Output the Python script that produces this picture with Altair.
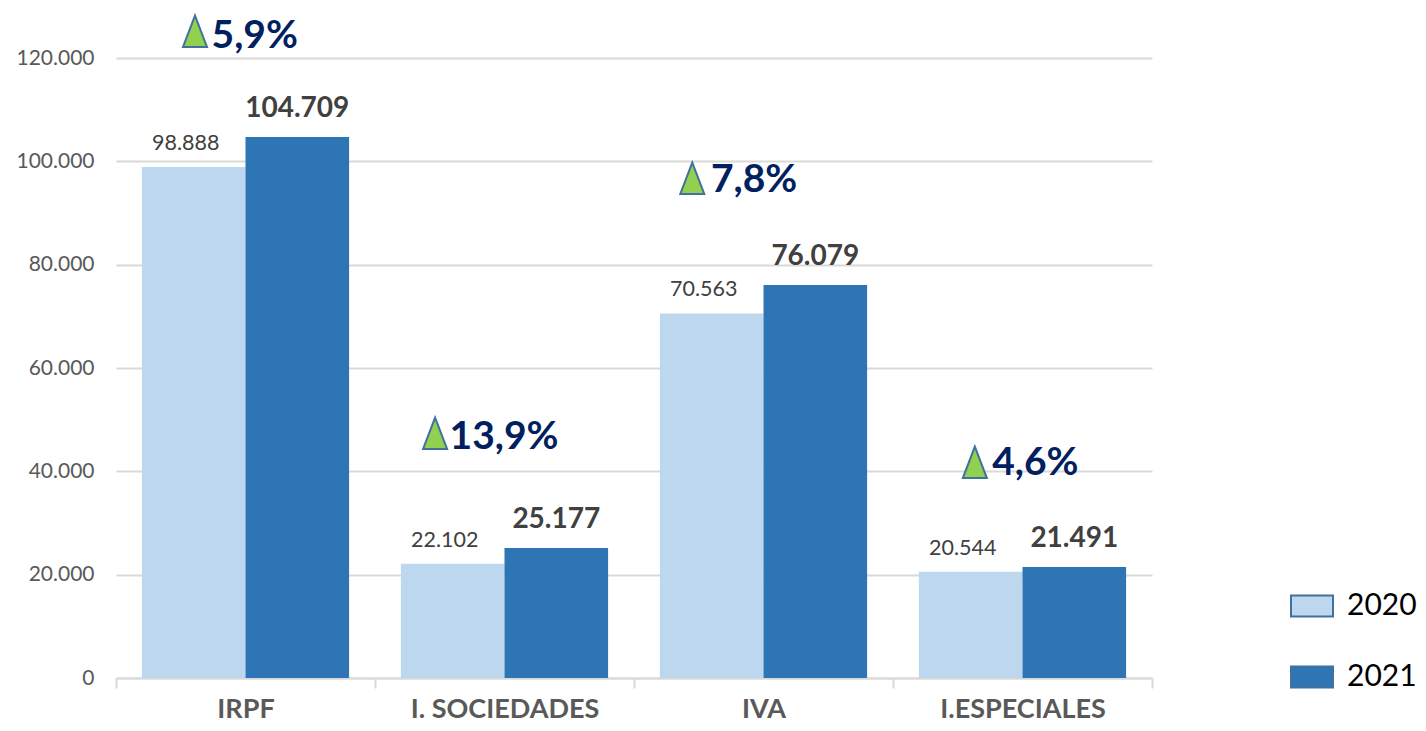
import altair as alt
import pandas as pd

categories = ["IRPF", "I. SOCIEDADES", "IVA", "I.ESPECIALES"]
values_2020 = [98888, 22102, 70563, 20544]
values_2021 = [104709, 25177, 76079, 21491]
changes = ["5,9%", "13,9%", "7,8%", "4,6%"]
# annotation anchors, in category units (0 = left of the axis, 4 = right) and value units
marker_x = [0.305, 1.232, 2.225, 3.316]
label_x = [0.369, 1.288, 2.297, 3.383]
marker_base = [122130, 44320, 93680, 38700]
label_base = [121900, 44320, 94070, 39300]

FONT = "Lato"
BLUE_L, BLUE_D = "#BDD7EE", "#2E75B6"

rows = []
for c, a, b in zip(categories, values_2020, values_2021):
    rows.append({"cat": c, "year": "2020", "v": a})
    rows.append({"cat": c, "year": "2021", "v": b})
df = pd.DataFrame(rows)
ann = pd.DataFrame({"mx": marker_x, "lx": label_x, "base": marker_base,
                    "lbase": label_base, "t": changes})

x = alt.X("cat:N", sort=categories, title=None,
          scale=alt.Scale(paddingInner=0, paddingOuter=0),
          axis=alt.Axis(tickBand="extent", labelAngle=0, labelFont=FONT, labelFontSize=27,
                        labelFontWeight="bold", labelColor="#595959", labelPadding=8,
                        labelLimit=400,
                        domainColor="#D9D9D9", domainWidth=2, tickColor="#D9D9D9",
                        tickWidth=2, tickSize=10, grid=False))
y = alt.Y("v:Q", title=None,
          scale=alt.Scale(domain=[0, 120000], nice=False),
          axis=alt.Axis(values=list(range(0, 120001, 20000)),
                        labelExpr="replace(format(datum.value, ','), ',', '.')",
                        labelFont=FONT, labelFontSize=21, labelColor="#595959",
                        labelPadding=22, tickSize=0, domain=False,
                        grid=True, gridColor="#D9D9D9", gridWidth=2))
off = alt.XOffset("year:N", scale=alt.Scale(paddingInner=0, paddingOuter=0.25))

bars = alt.Chart(df).mark_bar(strokeWidth=0).encode(
    x=x, y=y, xOffset=off,
    color=alt.Color("year:N",
                    scale=alt.Scale(domain=["2020", "2021"], range=[BLUE_L, BLUE_D]),
                    legend=alt.Legend(title=None, orient="none", legendX=1174, legendY=526,
                                      symbolType="M-1,-0.5H1V0.5H-1Z", symbolSize=1764,
                                      symbolStrokeColor="#41719C", symbolStrokeWidth=2,
                                      labelFont=FONT, labelFontSize=30, labelColor="#000000",
                                      labelOffset=13, rowPadding=34)))

lab_base = alt.Chart(df).transform_calculate(
    s="replace(format(datum.v, ','), ',', '.')")
lab20 = lab_base.transform_filter("datum.year == '2020'").mark_text(
    font=FONT, fontSize=21.5, color="#404040", baseline="alphabetic", dx=-8, dy=-17
).encode(x=alt.X("cat:N", sort=categories), y="v:Q", xOffset=off, text="s:N")
lab21 = lab_base.transform_filter("datum.year == '2021'").mark_text(
    font=FONT, fontSize=28, fontWeight="bold", color="#404040", baseline="alphabetic", dy=-20
).encode(x=alt.X("cat:N", sort=categories), y="v:Q", xOffset=off, text="s:N")

main = alt.layer(bars, lab20, lab21)

ux = alt.Scale(domain=[0, 4], nice=False, zero=False)
tri = alt.Chart(ann).mark_point(
    shape="M0,-2.62L1,0L-1,0Z", size=576, filled=True, fill="#92D050",
    stroke="#41719C", strokeWidth=2, opacity=1
).encode(x=alt.X("mx:Q", scale=ux, axis=None), y=alt.Y("base:Q"))
txt = alt.Chart(ann).mark_text(
    font=FONT, fontSize=39, fontWeight="bold", color="#002060",
    align="left", baseline="alphabetic"
).encode(x=alt.X("lx:Q", scale=ux, axis=None), y=alt.Y("lbase:Q"), text="t:N")

chart = alt.layer(main, tri, txt).resolve_scale(x="independent").properties(
    width=1036, height=620,
    autosize=alt.AutoSizeParams(type="none"),
    padding={"left": 108, "top": 50, "right": 266, "bottom": 45},
    background="white"
).configure_view(stroke=None)

chart.save("out.html", embed_options={"renderer": "svg", "actions": False})
